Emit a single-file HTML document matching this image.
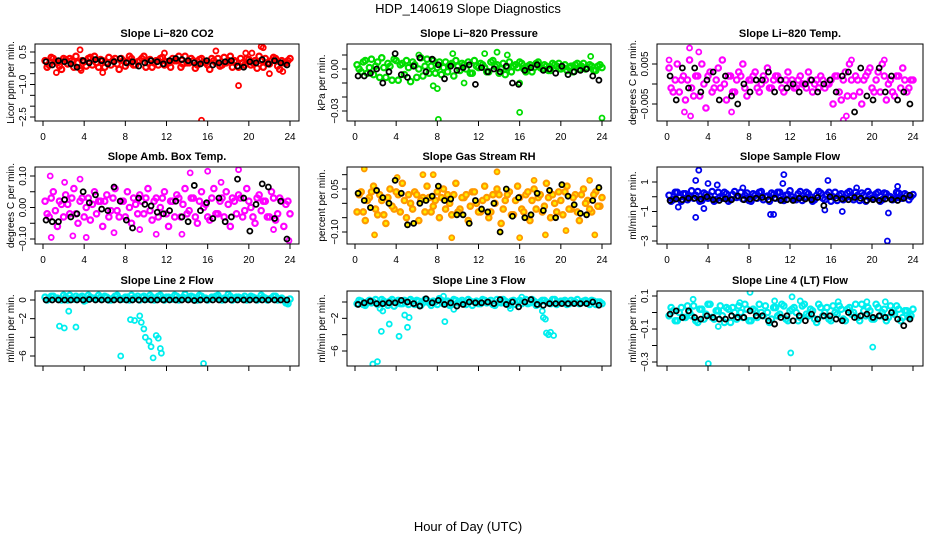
<!DOCTYPE html>
<html><head><meta charset="utf-8"><style>
body{margin:0;background:#fff}
svg{display:block;font-family:"Liberation Sans",sans-serif}
</style></head><body>
<svg id="chart" width="936" height="540" viewBox="0 0 936 540">
<text x="468" y="13" text-anchor="middle" font-size="13">HDP_140619  Slope Diagnostics</text>
<text x="468" y="531" text-anchor="middle" font-size="13">Hour of Day (UTC)</text>
<g id="panels"></g>
</svg>
<script>
// ---------- data ----------
const hourTicks = [0,4,8,12,16,20,24];
// Panel 1: CO2
const co2A = [0.1,-0.1,0.2,0.0,-0.3,0.15,0.2,-0.2,0.0,0.1,-0.15,0.25,0.3,-0.2,0.1,0.0,-0.1,0.2,-0.3,0.1,0.0,0.2,-0.1,0.1,0.3,0.0,-0.2,0.1,0.2,-0.1,0.0,0.2,0.1,-0.2,0.3,0.0,0.1,-0.1,0.2,0.0,-0.3,0.1,0.2,-0.1,0.0,0.3,0.1,-0.2,0.0,0.2,-0.1,0.1,0.3,-0.2,0.0,0.1,0.2,-0.3,0.0,0.1];
const co2B = [-0.2,0.25,0.05,-0.15,0.2,-0.05,0.1,0.3,-0.25,0.05,0.2,-0.1,0.0,0.15,-0.2,0.25,0.1,-0.05,0.2,-0.15,0.3,-0.1,0.05,0.2,-0.2,0.15,0.0,-0.1,0.25,0.05,-0.2,0.1,0.3,-0.05,0.0,0.2,-0.25,0.15,0.05,-0.1,0.2,0.0,-0.15,0.25,0.1,-0.2,0.05,0.2,-0.1,0.15,0.0,-0.25,0.1,0.2,-0.05,0.25,-0.15,0.1,0.0,0.2];
const co2OutX = [3.6,3.7,15.4,19,21.2,21.4,16.8,1.3,5.8,22,23.3,19.7,11.8,20.3];
const co2OutY = [0.6,-0.35,-2.65,-1.05,0.75,0.7,0.55,-0.45,-0.45,-0.5,-0.4,0.45,0.45,0.45];
const co2Blk = [0.05,-0.1,0.1,0.05,-0.05,-0.2,0.1,0.0,0.15,0.1,-0.05,0.05,0.2,0.0,0.05,-0.15,0.0,0.1,0.05,-0.05,0.1,0.2,0.15,0.1,0.0,-0.05,0.1,-0.1,0.0,0.05,0.1,-0.15,-0.2,0.05,0.0,0.15,-0.05,0.1,0.0,-0.1];
// Panel 2: Pressure
const prA = [0.003,-0.002,0.006,0.001,-0.004,0.005,0.008,-0.006,0.002,0.007,-0.008,0.004,0.006,-0.009,0.003,0.0,-0.005,0.007,0.002,-0.003,0.005,0.001,-0.002,0.004,0.006,-0.001,0.003,0.005,-0.003,0.002,0.004,0.001,-0.002,0.006,0.003,0.0,-0.004,0.005,0.002,0.001,0.004,-0.002,0.003,0.001,0.005,0.0,0.002,-0.001,0.003,0.004,0.001,-0.001,0.002,0.003,0.0,0.004,0.001,0.002,-0.001,0.003];
const prB = [0.0,0.005,-0.003,0.007,0.002,-0.006,0.001,0.004,-0.008,0.006,0.003,-0.004,0.001,0.005,-0.006,0.008,0.002,-0.003,0.006,0.001,-0.004,0.005,0.003,-0.005,0.002,0.004,0.0,-0.003,0.006,0.001,0.003,-0.002,0.005,0.002,-0.003,0.004,0.001,-0.002,0.003,0.005,0.0,0.002,-0.002,0.004,0.001,0.003,-0.001,0.004,0.002,0.0,0.003,0.001,-0.002,0.004,0.002,0.0,0.003,-0.001,0.002,0.001];
const prOutX = [7,8.1,16,24,8,9.5,13.8,7.6,10.6,22.9,16,6.2,12.6,14.8];
const prOutY = [0.02,-0.036,-0.031,-0.035,-0.014,0.011,0.012,-0.012,-0.01,0.009,-0.01,0.01,0.011,0.01];
const prBlk = [-0.005,-0.005,-0.003,0.0,-0.01,-0.002,0.011,-0.004,-0.006,0.002,0.008,-0.002,0.007,0.003,-0.007,0.002,-0.001,0.001,0.003,-0.011,0.001,-0.002,0.0,-0.002,0.002,-0.01,-0.011,-0.001,0.001,0.003,-0.001,0.0,-0.003,0.002,-0.004,-0.002,-0.001,0.0,-0.005,-0.008];
// Panel 3: Li-820 Temp
const ltA = [0.004,-0.002,0.005,0.001,-0.004,0.006,-0.003,0.002,0.005,-0.006,0.003,-0.001,0.004,0.006,-0.004,0.002,-0.002,0.003,0.005,-0.003,0.001,0.003,-0.002,0.002,0.004,-0.001,0.002,0.001,-0.002,0.003,0.001,-0.001,0.002,0.0,0.003,-0.002,0.001,0.002,-0.001,0.0,-0.005,0.002,-0.004,0.003,0.005,-0.003,0.001,-0.005,0.002,0.004,-0.002,0.003,0.005,-0.004,0.001,-0.003,0.002,0.004,-0.002,0.001];
const ltB = [-0.001,0.001,-0.002,0.002,0.001,-0.001,0.002,-0.003,0.0,0.002,-0.002,0.001,-0.001,0.0,0.002,-0.002,0.001,0.002,-0.001,0.001,0.002,-0.001,0.0,0.001,-0.001,0.001,0.002,-0.001,0.001,0.0,-0.001,0.001,0.0,-0.001,0.001,0.0,-0.001,0.001,0.0,0.001,0.002,-0.002,0.001,-0.003,0.001,0.002,-0.002,0.001,0.003,-0.001,0.001,-0.002,0.002,0.0,-0.002,0.002,-0.001,0.001,-0.001,0.001];
const ltOutX = [2.2,3.1,17.2,17.5,0.2,18,2.3,21.2,1.7,6.3];
const ltOutY = [0.009,0.008,-0.009,-0.008,0.006,0.006,-0.008,0.006,-0.007,-0.007];
const ltBlk = [0.002,-0.004,0.004,-0.001,0.004,-0.002,0.001,0.003,-0.004,0.002,-0.003,-0.005,0.0,-0.002,0.001,0.001,0.003,-0.002,0.001,-0.001,0.0,-0.002,0.0,0.001,-0.002,0.0,0.001,-0.002,0.002,0.003,-0.007,0.004,-0.003,-0.004,0.004,-0.002,0.002,-0.004,-0.002,-0.005];
// Panel 4: Amb. Box Temp
const abA = [0.02,-0.03,0.05,-0.06,0.01,0.04,-0.02,0.06,-0.05,0.03,0.0,-0.04,0.05,0.02,-0.06,0.04,-0.01,0.06,-0.03,0.02,0.05,-0.05,0.01,0.04,-0.02,0.06,-0.04,0.03,0.0,0.05,-0.06,0.02,0.04,-0.03,0.06,-0.01,0.03,-0.05,0.05,0.01,-0.04,0.06,-0.02,0.03,0.05,-0.06,0.02,0.04,-0.03,0.06,0.0,-0.05,0.04,0.02,-0.03,0.05,-0.04,0.03,-0.06,0.02];
const abB = [-0.02,0.03,-0.01,0.02,-0.03,0.01,0.03,-0.02,0.02,-0.03,0.03,0.01,-0.02,0.02,0.02,-0.03,0.03,-0.01,0.02,-0.03,0.0,0.03,-0.02,0.02,0.03,-0.01,0.02,-0.03,0.03,-0.02,0.02,-0.03,0.03,0.01,-0.02,0.03,-0.03,0.02,0.0,-0.03,0.03,-0.02,0.02,-0.03,0.01,0.03,-0.02,0.03,-0.01,0.02,-0.03,0.03,-0.01,0.02,-0.03,0.03,-0.02,0.02,0.01,-0.02];
const abOutX = [0.7,16,19,9.4,4.2,2.9,0.8,23.9,14.3,11,13.5,17.3,3.6,2.1,22.4,6.9];
const abOutY = [0.1,0.115,0.12,-0.07,-0.095,-0.09,-0.095,-0.105,0.11,-0.085,-0.085,0.08,0.09,0.08,-0.07,-0.08];
const abBlk = [-0.04,-0.045,-0.045,0.025,-0.03,-0.02,0.05,0.015,0.04,-0.005,-0.01,0.065,0.02,-0.04,-0.065,0.03,0.01,0.005,-0.015,-0.02,-0.01,0.02,-0.03,-0.045,0.07,-0.01,0.015,-0.035,0.03,-0.045,-0.03,0.09,0.03,-0.075,0.01,0.075,0.065,-0.035,0.02,-0.1];
// Panel 5: Gas Stream RH
const rhA = [-0.03,0.04,-0.06,0.02,0.06,-0.04,0.01,-0.07,0.05,-0.02,0.03,0.07,-0.05,0.0,0.04,-0.06,0.02,0.06,-0.03,0.01,-0.05,0.05,0.03,-0.04,0.07,-0.02,0.02,-0.06,0.04,0.0,-0.03,0.06,-0.05,0.03,0.05,-0.07,0.01,0.04,-0.04,0.06,-0.02,0.03,-0.06,0.05,0.02,-0.03,0.07,-0.05,0.0,0.04,-0.04,0.06,-0.02,0.03,-0.06,0.05,0.01,-0.03,0.04,-0.01];
const rhB = [0.03,-0.03,0.01,0.04,-0.02,0.03,-0.04,0.02,-0.01,0.04,-0.03,0.01,0.03,-0.02,0.03,0.01,-0.03,0.02,-0.01,0.04,0.02,-0.02,0.0,0.03,-0.03,0.02,0.03,-0.01,0.04,-0.03,0.01,0.02,-0.03,0.0,0.03,-0.02,0.03,-0.04,0.01,0.02,-0.03,0.04,0.01,-0.02,0.03,-0.01,0.02,0.03,-0.03,0.01,0.04,-0.02,0.02,-0.03,0.03,0.0,-0.02,0.03,-0.01,0.02];
const rhOutX = [0.9,9.4,16,13.8,1.9,23.3,18.5,7.6,17.4,22.8,20.5,4.1,6.6];
const rhOutY = [0.12,-0.12,-0.12,0.11,-0.11,-0.11,-0.11,0.1,0.08,0.08,-0.095,0.09,0.1];
const rhBlk = [0.035,0.01,-0.015,0.045,0.02,0.0,0.08,0.035,-0.075,-0.07,0.0,0.01,0.025,0.06,0.01,0.015,-0.04,-0.04,-0.07,0.01,-0.02,-0.03,0.0,-0.1,0.05,-0.045,0.02,-0.05,-0.04,0.035,-0.025,0.045,-0.05,0.065,0.025,-0.005,-0.035,-0.04,0.01,0.055];
// Panel 6: Sample Flow
const sfA = [0.1,-0.2,0.3,-0.3,0.2,0.0,-0.1,0.35,-0.25,0.15,0.05,-0.3,0.3,-0.1,0.2,-0.2,0.35,0.0,-0.15,0.25,-0.3,0.1,0.3,-0.2,0.05,0.25,-0.1,0.3,-0.25,0.15,0.0,-0.2,0.35,-0.1,0.2,-0.3,0.1,0.25,-0.2,0.3,0.0,-0.25,0.2,-0.1,0.35,-0.2,0.1,0.25,-0.3,0.15,-0.05,0.3,-0.2,0.2,0.0,-0.15,0.25,-0.1,0.1,0.0];
const sfB = [-0.3,0.3,-0.05,0.2,-0.2,0.4,0.1,-0.3,0.25,-0.1,0.35,-0.2,0.0,0.3,-0.3,0.15,-0.05,0.3,0.1,-0.25,0.2,-0.1,0.35,0.0,-0.3,0.15,0.3,-0.2,0.1,0.4,-0.15,0.2,-0.25,0.3,0.0,-0.2,0.35,-0.1,0.15,-0.3,0.3,0.1,-0.2,0.25,-0.05,0.3,-0.25,0.1,0.35,-0.1,0.2,-0.3,0.25,0.05,-0.2,0.3,-0.1,0.2,-0.2,0.15];
const sfOutX = [3.1,11.4,2.8,15.7,4,10.1,10.4,21.5,21.6,2.8,3.6,15.4,17.1,1.1,11.3,4.9,18.5,22.5,7.4];
const sfOutY = [1.8,1.5,1.1,1.1,0.9,-1.2,-1.2,-3.0,-1.1,-1.4,-0.8,-0.9,-1.0,-0.7,0.9,0.8,0.6,0.7,0.6];
const sfBlk = [-0.25,-0.15,-0.2,-0.1,-0.1,-0.15,0.0,-0.2,-0.25,-0.15,-0.2,0.05,-0.2,-0.15,-0.1,-0.05,-0.2,-0.1,-0.25,-0.2,-0.25,-0.1,-0.15,-0.2,-0.05,-0.6,0.0,-0.1,-0.15,-0.2,-0.05,-0.1,-0.25,-0.2,-0.25,-0.15,-0.2,-0.25,-0.1,0.1];
// Panel 7: Line 2 Flow
const l2A = [0.3,0.1,0.4,0.2,0.0,0.3,0.5,0.1,0.2,0.4,0.0,0.3,0.2,0.5,0.1,0.3,0.0,0.4,0.2,0.1,0.3,0.5,0.2,0.0,0.4,0.1,0.3,0.2,0.5,0.0,0.3,0.1,0.4,0.2,0.6,0.1,0.3,0.0,0.4,0.2,0.1,0.3,0.5,0.0,0.2,0.4,0.1,0.3,0.2,0.0,0.4,0.2,0.1,0.3,0.0,0.2,0.4,0.1,0.0,-0.4];
const l2B = [0.0,0.4,0.2,0.1,0.5,0.0,0.2,0.4,0.3,-0.1,0.5,0.2,0.1,0.3,0.4,0.0,0.2,0.5,0.1,0.3,0.0,0.2,0.4,0.3,0.1,0.5,0.0,0.4,0.1,0.3,0.2,0.5,0.0,0.3,0.2,0.4,0.1,0.5,0.2,0.0,0.3,0.4,0.1,0.2,0.6,0.0,0.3,0.2,0.4,0.1,0.3,0.0,0.5,0.2,0.1,0.4,0.0,0.2,-0.3,0.1];
const l2OutX = [1.6,2.07,2.5,3.2,7.55,8.5,8.9,9.4,9.55,9.8,9.95,10.3,10.5,10.7,11.0,11.2,11.4,11.5,15.6];
const l2OutY = [-2.8,-3.0,-1.2,-2.9,-6.0,-2.1,-2.2,-1.7,-2.4,-3.1,-4.0,-4.4,-5.0,-6.2,-3.8,-4.1,-5.2,-5.7,-6.8];
const l2Blk = [0.0,0.0,0.0,0.0,0.0,0.0,0.0,0.05,0.0,0.0,0.0,0.0,0.0,0.0,0.0,0.0,0.0,0.0,0.0,0.0,0.0,0.0,0.0,0.0,-0.05,0.0,0.0,0.0,0.0,0.0,0.0,0.0,0.0,0.0,0.0,0.0,0.0,0.0,0.0,0.0];
// Panel 8: Line 3 Flow
const l3A = [-0.2,0.1,-0.4,0.2,0.0,-0.3,0.3,-0.1,0.1,-0.5,0.2,-0.2,0.0,0.3,-0.3,0.1,-0.1,0.2,-0.4,0.0,0.4,-0.2,0.1,-0.3,0.2,0.0,-0.1,0.3,-0.4,0.1,-0.2,0.2,0.0,-0.3,0.3,-0.1,0.1,-0.4,0.2,0.0,-0.2,0.3,-0.1,0.1,-0.3,0.2,0.0,-0.2,0.3,-0.1,0.1,-0.3,0.2,0.0,-0.2,0.1,-0.1,0.2,-0.3,0.0];
const l3B = [0.2,-0.3,0.0,-0.1,0.3,-0.2,0.1,-0.4,0.3,0.0,-0.2,0.2,-0.3,0.1,0.2,-0.4,0.3,-0.1,0.1,-0.3,0.2,0.0,-0.4,0.3,-0.1,0.2,-0.3,0.1,0.0,-0.2,0.3,-0.1,0.2,-0.4,0.0,0.3,-0.2,0.1,-0.3,0.2,0.1,-0.2,0.3,-0.4,0.0,0.2,-0.1,0.3,-0.3,0.1,0.2,-0.2,0.0,0.3,-0.1,0.2,-0.3,0.1,0.0,-0.2];
const l3OutX = [1.73,2.18,2.56,3.33,4.28,4.83,5.1,5.26,8.73,2.43,2.7,18.2,18.3,18.5,18.6,18.8,19.3,19.0,15.1,9.6,8.6,16.2];
const l3OutY = [-7.6,-7.3,-3.6,-2.7,-4.2,-1.6,-3.1,-1.9,-2.4,-0.8,-1.1,-1.1,-1.9,-2.1,-3.8,-4.0,-4.1,-3.7,-0.8,-0.9,0.7,0.6];
const l3Blk = [-0.3,-0.1,0.1,-0.2,-0.2,-0.1,-0.1,0.2,0.0,-0.2,-0.5,0.4,-0.1,0.2,-0.3,-0.1,-0.5,-0.3,0.0,-0.1,-0.1,0.0,-0.2,0.3,-0.3,0.0,-0.6,0.0,0.3,-0.3,-0.4,-0.2,-0.2,-0.2,-0.2,-0.2,-0.2,-0.2,0.0,-0.4];
// Panel 9: Line 4 (LT) Flow
const l4A = [-0.02,0.01,-0.05,0.03,-0.03,0.0,0.04,-0.06,0.02,-0.01,0.05,-0.04,0.01,-0.02,0.03,-0.06,0.0,0.04,-0.03,0.02,-0.05,0.01,0.05,-0.02,0.0,-0.04,0.03,-0.01,0.04,-0.05,0.02,0.0,-0.03,0.05,-0.02,0.01,-0.06,0.03,0.0,-0.04,0.04,-0.01,0.02,-0.05,0.03,0.0,-0.03,0.05,-0.02,0.01,-0.04,0.03,0.0,-0.05,0.04,-0.01,0.02,-0.03,0.01,-0.02];
const l4B = [0.03,-0.05,0.0,-0.03,0.04,-0.02,-0.05,0.02,-0.04,0.05,-0.03,0.01,0.04,-0.06,0.02,0.03,-0.04,0.0,0.05,-0.05,0.02,-0.03,0.0,0.04,-0.06,0.03,-0.02,0.05,-0.04,0.01,0.03,-0.05,0.04,-0.01,0.02,-0.04,0.05,-0.02,0.03,-0.05,0.0,0.04,-0.04,0.02,-0.01,0.05,-0.05,0.01,0.03,-0.04,0.05,-0.02,0.02,-0.03,0.0,0.04,-0.05,0.01,-0.03,0.02];
const l4OutX = [8.1,4.03,12.07,20.07,12.2,2.55,5.0,10.5,16.7,19.5,21.3,13.0,7.1];
const l4OutY = [0.122,-0.31,-0.245,-0.21,0.095,0.08,-0.085,0.07,0.065,0.065,0.065,0.07,0.06];
const l4Blk = [-0.01,0.01,-0.03,0.01,-0.03,-0.04,-0.02,-0.03,-0.04,-0.04,-0.02,-0.03,-0.03,0.01,-0.02,-0.02,-0.05,-0.07,-0.03,-0.02,-0.05,-0.02,-0.05,-0.01,-0.04,-0.02,-0.02,-0.04,-0.05,0.0,-0.03,-0.02,-0.01,-0.03,-0.02,-0.03,0.0,-0.04,-0.08,-0.04];

// ---------- layout ----------
const cols = [{l:35,r:299,x0:43,x1:290,yl:10},{l:347,r:611,x0:355,x1:602,yl:321},{l:657,r:923,x0:667,x1:913,yl:632}];
const rows = [{t:44,b:121},{t:167,b:244},{t:291,b:366}];
const panels = [
 {title:"Slope Li\u2212820 CO2",ylab:"Licor ppm per min.",c:0,r:0,col:"#ff0000",v0:0.5,p0:52,v1:-2.5,p1:117,ticks:[0.5,0,-0.5,-1,-1.5,-2,-2.5],labels:[[0.5,"0.5"],[-1,"\u22121.0"],[-2.5,"\u22122.5"]],A:co2A,B:co2B,ox:co2OutX,oy:co2OutY,K:co2Blk,fill:null},
 {title:"Slope Li\u2212820 Pressure",ylab:"kPa per min.",c:1,r:0,col:"#00dd00",v0:0,p0:69,v1:-0.03,p1:111,ticks:[0.01,0,-0.01,-0.02,-0.03],labels:[[0,"0.00"],[-0.03,"\u22120.03"]],A:prA,B:prB,ox:prOutX,oy:prOutY,K:prBlk,fill:null},
 {title:"Slope Li\u2212820 Temp.",ylab:"degrees C  per min.",c:2,r:0,col:"#ff00ff",v0:0.005,p0:64,v1:-0.005,p1:104,ticks:[0.005,0,-0.005],labels:[[0.005,"0.005"],[-0.005,"\u22120.005"]],A:ltA,B:ltB,ox:ltOutX,oy:ltOutY,K:ltBlk,fill:null},
 {title:"Slope Amb. Box Temp.",ylab:"degrees C per min.",c:0,r:1,col:"#ff00ff",v0:0.1,p0:176,v1:-0.1,p1:239,ticks:[0.1,0.05,0,-0.05,-0.1],labels:[[0.1,"0.10"],[0,"0.00"],[-0.1,"\u22120.10"]],A:abA,B:abB,ox:abOutX,oy:abOutY,K:abBlk,fill:null},
 {title:"Slope Gas Stream RH",ylab:"percent per min.",c:1,r:1,col:"#ff9900",v0:0.05,p0:189,v1:-0.1,p1:232,ticks:[0.1,0.05,0,-0.05,-0.1],labels:[[0.05,"0.05"],[-0.1,"\u22120.10"]],A:rhA,B:rhB,ox:rhOutX,oy:rhOutY,K:rhBlk,fill:"#ffee00"},
 {title:"Slope Sample Flow",ylab:"ml/min per min.",c:2,r:1,col:"#0000ee",v0:1,p0:182,v1:-3,p1:241,ticks:[1,0,-1,-2,-3],labels:[[1,"1"],[-1,"\u22121"],[-3,"\u22123"]],A:sfA,B:sfB,ox:sfOutX,oy:sfOutY,K:sfBlk,fill:null},
 {title:"Slope Line 2 Flow",ylab:"ml/min per min.",c:0,r:2,col:"#00eeee",v0:0,p0:300,v1:-6,p1:356,ticks:[0,-2,-4,-6],labels:[[0,"0"],[-2,"\u22122"],[-6,"\u22126"]],A:l2A,B:l2B,ox:l2OutX,oy:l2OutY,K:l2Blk,fill:null},
 {title:"Slope Line 3 Flow",ylab:"ml/min per min.",c:1,r:2,col:"#00eeee",v0:0,p0:302,v1:-6,p1:351,ticks:[0,-2,-4,-6],labels:[[-2,"\u22122"],[-6,"\u22126"]],A:l3A,B:l3B,ox:l3OutX,oy:l3OutY,K:l3Blk,fill:null},
 {title:"Slope Line 4 (LT) Flow",ylab:"ml/min per min.",c:2,r:2,col:"#00eeee",v0:0.1,p0:296,v1:-0.3,p1:362,ticks:[0.1,0,-0.1,-0.2,-0.3],labels:[[0.1,"0.1"],[-0.1,"\u22120.1"],[-0.3,"\u22120.3"]],A:l4A,B:l4B,ox:l4OutX,oy:l4OutY,K:l4Blk,fill:null}
];
const NS="http://www.w3.org/2000/svg";
const root=document.getElementById('panels');
function mk(tag,attrs,parent){const e=document.createElementNS(NS,tag);for(const k in attrs)e.setAttribute(k,attrs[k]);parent.appendChild(e);return e;}
panels.forEach((p,pi)=>{
  const C=cols[p.c],R=rows[p.r];
  const xs=h=>C.x0+(C.x1-C.x0)*h/24;
  const ys=v=>p.p0+(v-p.v0)*(p.p1-p.p0)/(p.v1-p.v0);
  const g=mk('g',{},root);
  
  
  const t=mk('text',{x:(C.l+C.r)/2,y:R.t-7,'text-anchor':'middle','font-size':11,'font-weight':'bold'},g);
  t.textContent=p.title;
  
  
  const yl=mk('text',{transform:`translate(${C.yl+4},${(R.t+R.b)/2}) rotate(-90)`,'text-anchor':'middle','font-size':10},g);
  yl.textContent=p.ylab;
  
  
  const xa=mk('g',{stroke:'#000','stroke-width':1},g);
  
  
  mk('line',{x1:xs(0),x2:xs(24),y1:R.b,y2:R.b},xa);
  hourTicks.forEach(h=>{
    mk('line',{x1:xs(h),x2:xs(h),y1:R.b,y2:R.b+5},xa);
    if(p.r<2){const tx=mk('text',{x:xs(h),y:R.b+19,'text-anchor':'middle','font-size':10,stroke:'none',fill:'#000'},g);tx.textContent=h;
    
    }
  });
  const ya=mk('g',{stroke:'#000','stroke-width':1},g);
  
  
  mk('line',{x1:C.l,x2:C.l,y1:ys(p.ticks[0]),y2:ys(p.ticks[p.ticks.length-1])},ya);
  p.ticks.forEach(v=>mk('line',{x1:C.l-5,x2:C.l,y1:ys(v),y2:ys(v)},ya));
  p.labels.forEach(([v,s])=>{const tx=mk('text',{transform:`translate(${C.l-9},${ys(v)}) rotate(-90)`,'text-anchor':'middle','font-size':10},g);tx.textContent=s;
    
    });
  const clip='clip'+pi;
  const cp=mk('clipPath',{id:clip},g);mk('rect',{x:C.l,y:R.t,width:C.r-C.l,height:R.b-R.t},cp);
  const pts=mk('g',{'clip-path':`url(#${clip})`,fill:p.fill||'none'},g);
  
  
  const dot=(h,v,col,sw,r)=>{const c=mk('circle',{cx:xs(h),cy:ys(v),r:r,stroke:col,'stroke-width':sw},pts);
    
    };
  p.A.forEach((v,i)=>dot(0.2+i*0.4,v,p.col,2.2,2.7));
  p.B.forEach((v,i)=>dot(0.4+i*0.4,v,p.col,2.2,2.7));
  p.ox.forEach((h,i)=>dot(h,p.oy[i],p.col,1.8,2.5));
  p.K.forEach((v,i)=>dot(0.3+i*0.6,v,'#000',1.8,2.5));
  const box=mk('rect',{x:C.l,y:R.t,width:C.r-C.l,height:R.b-R.t,fill:'none',stroke:'#000','stroke-width':1},g);
  
  
});
</script>
</body></html>
